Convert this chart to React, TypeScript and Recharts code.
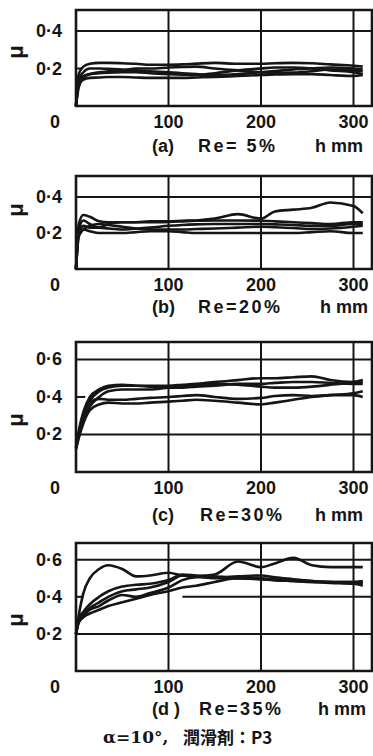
import React from 'react';
import { LineChart, Line, XAxis, YAxis, ReferenceLine, ReferenceArea } from 'recharts';

// sliding distance h (mm) sampled along every trace
const hValues = [0, 3, 8, 15, 25, 35, 50, 65, 80, 100, 115, 130, 150, 175, 200, 215, 235, 255, 275, 300, 310];

// (a) Re = 5%
const muA1 = [0, 0.17, 0.21, 0.225, 0.23, 0.23, 0.228, 0.225, 0.22, 0.22, 0.222, 0.226, 0.23, 0.225, 0.225, 0.228, 0.23, 0.228, 0.222, 0.215, 0.21];
const muA2 = [0, 0.12, 0.14, 0.15, 0.152, 0.155, 0.155, 0.152, 0.15, 0.15, 0.15, 0.152, 0.155, 0.16, 0.165, 0.168, 0.17, 0.17, 0.165, 0.16, 0.165];
const muA3 = [0, 0.14, 0.18, 0.2, 0.2, 0.198, 0.195, 0.19, 0.185, 0.18, 0.175, 0.17, 0.165, 0.17, 0.18, 0.186, 0.195, 0.2, 0.205, 0.2, 0.195];
const muA4 = [0, 0.1, 0.15, 0.17, 0.18, 0.185, 0.19, 0.2, 0.2, 0.205, 0.208, 0.21, 0.2, 0.19, 0.18, 0.176, 0.178, 0.185, 0.195, 0.19, 0.185];
const muA5 = [0, 0.13, 0.16, 0.17, 0.175, 0.178, 0.18, 0.18, 0.175, 0.17, 0.167, 0.165, 0.175, 0.19, 0.2, 0.205, 0.205, 0.2, 0.19, 0.18, 0.17];

// (b) Re = 20%
const muB1 = [0, 0.25, 0.3, 0.29, 0.265, 0.26, 0.26, 0.26, 0.265, 0.265, 0.268, 0.27, 0.28, 0.305, 0.28, 0.32, 0.33, 0.34, 0.37, 0.35, 0.31];
const muB2 = [0, 0.22, 0.27, 0.25, 0.23, 0.25, 0.26, 0.26, 0.26, 0.262, 0.265, 0.268, 0.27, 0.27, 0.268, 0.265, 0.26, 0.255, 0.25, 0.26, 0.26];
const muB3 = [0, 0.2, 0.24, 0.23, 0.23, 0.225, 0.22, 0.225, 0.23, 0.24, 0.245, 0.248, 0.25, 0.25, 0.25, 0.248, 0.245, 0.24, 0.24, 0.25, 0.25];
const muB4 = [0, 0.18, 0.22, 0.24, 0.25, 0.245, 0.235, 0.225, 0.22, 0.22, 0.22, 0.222, 0.225, 0.23, 0.235, 0.232, 0.228, 0.222, 0.225, 0.235, 0.24];
const muB5 = [0, 0.2, 0.22, 0.21, 0.2, 0.2, 0.2, 0.205, 0.21, 0.21, 0.205, 0.2, 0.2, 0.2, 0.2, 0.2, 0.2, 0.205, 0.21, 0.2, 0.2];

// (c) Re = 30%
const muC1 = [0.13, 0.2, 0.3, 0.38, 0.43, 0.45, 0.46, 0.46, 0.46, 0.46, 0.465, 0.47, 0.48, 0.49, 0.5, 0.5, 0.505, 0.51, 0.49, 0.48, 0.48];
const muC2 = [0.13, 0.22, 0.32, 0.4, 0.44, 0.46, 0.465, 0.46, 0.455, 0.45, 0.45, 0.455, 0.46, 0.47, 0.47, 0.475, 0.48, 0.48, 0.475, 0.47, 0.47];
const muC3 = [0.13, 0.2, 0.28, 0.35, 0.4, 0.43, 0.44, 0.44, 0.44, 0.45, 0.455, 0.46, 0.47, 0.465, 0.455, 0.45, 0.45, 0.455, 0.465, 0.48, 0.49];
const muC4 = [0.12, 0.18, 0.26, 0.33, 0.36, 0.37, 0.365, 0.365, 0.37, 0.375, 0.38, 0.385, 0.38, 0.37, 0.36, 0.37, 0.385, 0.4, 0.41, 0.42, 0.43];
const muC5 = [0.13, 0.2, 0.3, 0.37, 0.39, 0.385, 0.385, 0.39, 0.395, 0.4, 0.405, 0.41, 0.4, 0.39, 0.395, 0.405, 0.41, 0.405, 0.41, 0.41, 0.4];

// (d) Re = 35%
const muD1 = [0.2, 0.3, 0.42, 0.5, 0.55, 0.57, 0.55, 0.51, 0.515, 0.53, 0.515, 0.51, 0.52, 0.59, 0.56, 0.58, 0.61, 0.57, 0.56, 0.56, 0.56];
const muD2 = [0.2, 0.26, 0.29, 0.31, 0.33, 0.35, 0.37, 0.39, 0.41, 0.43, 0.45, 0.46, 0.48, 0.5, 0.495, 0.49, 0.485, 0.48, 0.475, 0.47, 0.46];
const muD3 = [0.2, 0.28, 0.32, 0.36, 0.4, 0.43, 0.455, 0.465, 0.47, 0.49, 0.52, 0.515, 0.51, 0.5, 0.495, 0.49, 0.485, 0.48, 0.48, 0.48, 0.48];
const muD4 = [0.2, 0.27, 0.31, 0.34, 0.37, 0.4, 0.43, 0.44, 0.45, 0.48, 0.515, 0.51, 0.5, 0.5, 0.5, 0.495, 0.49, 0.485, 0.48, 0.475, 0.47];
const muD5 = [0.2, 0.27, 0.3, 0.33, 0.35, 0.38, 0.41, 0.4, 0.42, 0.45, 0.49, 0.505, 0.505, 0.51, 0.515, 0.505, 0.495, 0.485, 0.48, 0.48, 0.485];

const xTicks = [0, 100, 200, 300];
const panelTags = ['(a)', '(b)', '(c)', '(d )'];
const panelRe = ['Re= 5%', 'Re=20%', 'Re=30%', 'Re=35%'];
const footerAngle = 'α=10°,';
const footerLube = '潤滑剤：P3';

const FONT = '"Liberation Sans", Arial, sans-serif';
const INK = '#151515';
const X_MAX = 320;

type Seg = [number, number, number]; // y, x from, x to

interface PanelProps {
  top: number;
  plotH: number;
  yMax: number;
  yTicks: number[];
  series: number[][];
  full: number[];
  parts: Seg[];
}

const Panel = ({ top, plotH, yMax, yTicks, series, full, parts }: PanelProps) => {
  const rows = hValues.map((h, i) => {
    const r: Record<string, number> = { h };
    series.forEach((s, k) => { r['s' + k] = s[i]; });
    return r;
  });
  const plotBottom = 10 + plotH;

  const XTick = ({ x, payload }: any) => (
    <text x={payload.value === 0 ? x - 21 : x} y={plotBottom + 16} textAnchor="middle"
      dominantBaseline="central" fontFamily={FONT} fontSize={18} fontWeight="bold" fill={INK}>
      {payload.value}
    </text>
  );
  const YTick = ({ x, y, payload }: any) => (
    <text x={x - 14} y={y} textAnchor="end" dominantBaseline="central"
      fontFamily={FONT} fontSize={18} fontWeight="bold" fill={INK}>
      {payload.value.toFixed(1).replace('.', '·')}
    </text>
  );

  return (
    <div style={{ position: 'absolute', left: 0, top }}>
      <LineChart width={373} height={plotH + 44} data={rows}
        margin={{ top: 10, right: 1, bottom: 0, left: 0 }}>
        <XAxis dataKey="h" type="number" domain={[0, X_MAX]} ticks={xTicks} height={34}
          axisLine={false} tickLine={false} tickSize={0} tickMargin={0} tick={<XTick />} />
        <YAxis type="number" domain={[0, yMax]} ticks={yTicks} width={76}
          axisLine={false} tickLine={false} tickSize={0} tickMargin={0} tick={<YTick />} />
        {[100, 200, 300].map(v => (
          <ReferenceLine key={'v' + v} x={v} stroke={INK} strokeWidth={2} />
        ))}
        {full.map(v => (
          <ReferenceLine key={'h' + v} y={v} stroke={INK} strokeWidth={2} />
        ))}
        {parts.map(([y, a, b], i) => (
          <ReferenceLine key={'p' + i} segment={[{ x: a, y }, { x: b, y }]} stroke={INK} strokeWidth={2} />
        ))}
        <ReferenceArea x1={0} x2={X_MAX} y1={0} y2={yMax} fill="none" stroke={INK} strokeWidth={2.6} />
        {series.map((_, k) => (
          <Line key={k} dataKey={'s' + k} type="monotone" stroke={INK} strokeWidth={2.6}
            dot={false} isAnimationActive={false} />
        ))}
      </LineChart>
    </div>
  );
};

const label = (text: string, left: number, cy: number, extra: React.CSSProperties = {}) => (
  <span style={{
    position: 'absolute', left, top: cy - 11, height: 22, lineHeight: '22px',
    fontFamily: FONT, fontSize: 18, fontWeight: 'bold', color: INK, whiteSpace: 'pre', ...extra
  }}>{text}</span>
);

const mu = (cy: number) => (
  <span style={{
    position: 'absolute', left: 5, top: cy - 11, width: 22, height: 22, lineHeight: '22px',
    textAlign: 'center', fontFamily: FONT, fontSize: 22, fontWeight: 'bold', color: INK,
    transform: 'rotate(-90deg)'
  }}>μ</span>
);

const captionAt = (i: number, cy: number, tagX: number, reX: number, hX: number) => (
  <>
    {label(panelTags[i], tagX, cy)}
    {label(panelRe[i], reX, cy, { letterSpacing: 2.5 })}
    {label('h mm', hX, cy)}
  </>
);

export default function App() {
  return (
    <div style={{ position: 'absolute', left: 0, top: 0, width: 373, height: 756, background: '#fff', overflow: 'hidden' }}>
      <Panel top={0} plotH={96} yMax={0.512} yTicks={[0.2, 0.4]}
        series={[muA1, muA2, muA3, muA4, muA5]} full={[0.4]} parts={[[0.2, 0, 6]]} />
      <Panel top={166} plotH={93} yMax={0.517} yTicks={[0.2, 0.4]}
        series={[muB1, muB2, muB3, muB4, muB5]} full={[0.4]} parts={[[0.2, 0, 6]]} />
      <Panel top={332} plotH={130} yMax={0.693} yTicks={[0.2, 0.4, 0.6]}
        series={[muC1, muC2, muC3, muC4, muC5]} full={[0.6, 0.2]} parts={[[0.4, 0, 10]]} />
      <Panel top={533} plotH={128} yMax={0.69} yTicks={[0.2, 0.4, 0.6]}
        series={[muD1, muD2, muD3, muD4, muD5]} full={[0.6, 0.2]} parts={[[0.4, 0, 8], [0.4, 115, X_MAX]]} />

      {mu(52)}{mu(210)}{mu(420)}{mu(620)}

      {captionAt(0, 146, 152, 198, 315)}
      {captionAt(1, 307, 152, 198, 320)}
      {captionAt(2, 515, 152, 200, 315)}
      {captionAt(3, 709, 152, 199, 318)}

      {label(footerAngle, 103, 737, { fontFamily: '"DejaVu Serif", serif', fontSize: 17 })}
      {label(footerLube, 183, 737, { fontFamily: '"Noto Sans CJK JP", "DejaVu Serif", serif', fontSize: 17 })}
    </div>
  );
}
